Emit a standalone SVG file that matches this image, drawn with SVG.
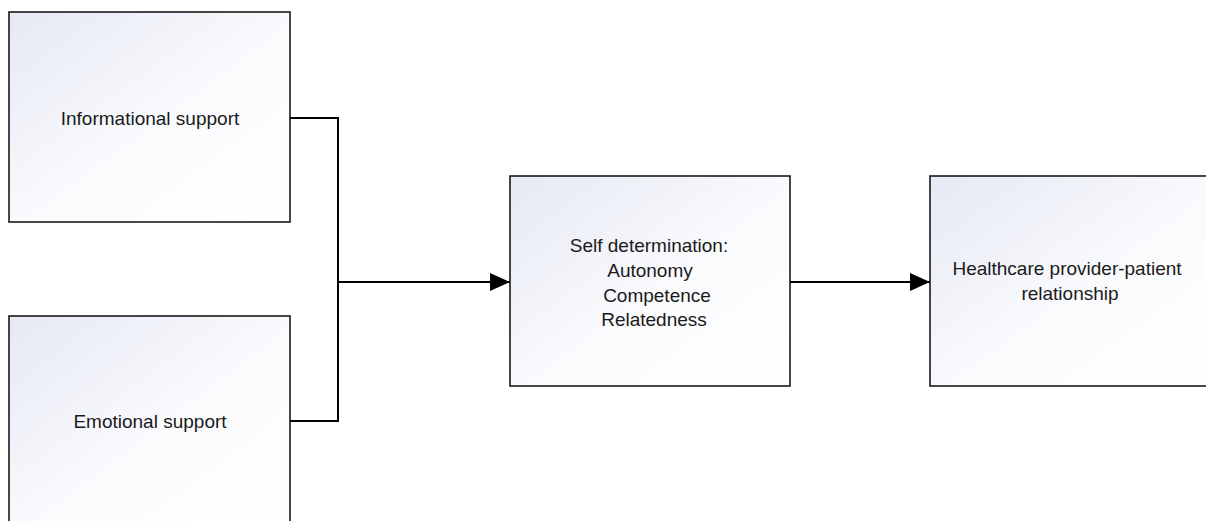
<svg xmlns="http://www.w3.org/2000/svg" width="1206" height="521" viewBox="0 0 1206 521">
<defs>
<linearGradient id="g" x1="0" y1="0" x2="1" y2="1">
<stop offset="0" stop-color="#e6e8f4"/>
<stop offset="0.55" stop-color="#fafbfd"/>
<stop offset="1" stop-color="#ffffff"/>
</linearGradient>
<marker id="arr" markerUnits="userSpaceOnUse" markerWidth="20" markerHeight="18" refX="20" refY="9" orient="auto">
<path d="M0,0 L20,9 L0,18 Z" fill="#000"/>
</marker>
<style>
.box{fill:url(#g);stroke:#1a1a1a;stroke-width:1.6}
.t{font-family:"Liberation Sans",Arial,sans-serif;font-size:19px;fill:#1a1a1a;text-anchor:middle}
.c{fill:none;stroke:#000;stroke-width:2}
</style>
</defs>
<g id="informational">
<rect class="box" x="9" y="12" width="281" height="210"/>
<text class="t" x="150" y="125">Informational support</text>
</g>
<g id="emotional">
<rect class="box" x="9" y="316" width="281" height="215"/>
<text class="t" x="150" y="428">Emotional support</text>
</g>
<g id="selfdetermination">
<rect class="box" x="510" y="176" width="280" height="210"/>
<text class="t" x="649" y="252">Self determination:</text>
<text class="t" x="650" y="277">Autonomy</text>
<text class="t" x="657" y="302">Competence</text>
<text class="t" x="654" y="326">Relatedness</text>
</g>
<g id="healthcare">
<rect class="box" x="930" y="176" width="290" height="210"/>
<text class="t" x="1067" y="275">Healthcare provider-patient</text>
<text class="t" x="1070" y="300">relationship</text>
</g>
<g id="connectors">
<polyline class="c" points="290,118 338,118 338,421 290,421"/>
<line class="c" x1="338" y1="282" x2="510" y2="282" marker-end="url(#arr)"/>
<line class="c" x1="790" y1="282" x2="930" y2="282" marker-end="url(#arr)"/>
</g>
</svg>
